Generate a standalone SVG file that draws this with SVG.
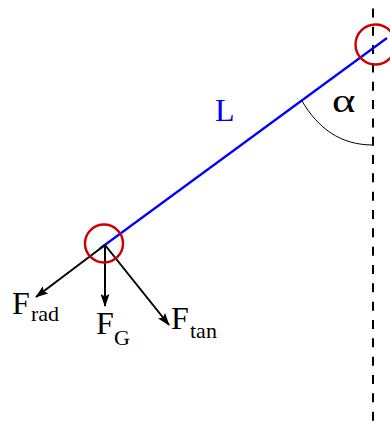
<svg xmlns="http://www.w3.org/2000/svg" width="390" height="421" viewBox="0 0 390 421">
<defs>
<style>
.t{font-family:"Liberation Serif","Times New Roman",serif;fill:#000}
.big{font-size:32px}
.sub{font-size:22px}
.arr{stroke:#000;stroke-width:2;fill:none;marker-end:url(#ah)}
.ring{fill:none;stroke:#cc0000;stroke-width:2.4}
</style>
<marker id="ah" viewBox="0 0 13 9" refX="12" refY="4.5" markerWidth="13" markerHeight="9" markerUnits="userSpaceOnUse" orient="auto">
<path d="M0,0 L13,4.5 L0,9 L2.5,4.5 Z" fill="#000"/>
</marker>
</defs>
<rect width="390" height="421" fill="#fff"/>
<g id="axis">
<line x1="373" y1="8.4" x2="373" y2="421" stroke="#000" stroke-width="2" stroke-dasharray="9 9.33"/>
</g>
<g id="connectors">
<line id="rope" x1="100" y1="248.5" x2="387" y2="38" stroke="#0000ff" stroke-width="2.2"/>
<path id="angle-arc" d="M302,101 C318,128 340,145 373,145" fill="none" stroke="#000" stroke-width="1"/>
<line class="arr" x1="105" y1="245" x2="36" y2="297"/>
<line class="arr" x1="105" y1="245" x2="105" y2="306"/>
<line class="arr" x1="105" y1="245" x2="169" y2="325"/>
</g>
<g id="pivot"><circle class="ring" cx="375.5" cy="44.5" r="20"/></g>
<g id="mass"><circle class="ring" cx="104" cy="243.5" r="19"/></g>
<g id="label-L"><text x="215" y="121" font-family="Liberation Serif, serif" font-size="32" fill="#0000ff">L</text></g>
<g id="label-alpha"><text class="t" font-size="33" transform="translate(332,112) scale(1.35,1)">α</text></g>
<g id="label-Frad"><text class="t big" x="12" y="314">F</text><text class="t sub" x="31" y="321">rad</text></g>
<g id="label-FG"><text class="t big" x="96" y="334">F</text><text class="t sub" x="114" y="345">G</text></g>
<g id="label-Ftan"><text class="t big" x="171" y="329">F</text><text class="t sub" x="190" y="338">tan</text></g>
</svg>
